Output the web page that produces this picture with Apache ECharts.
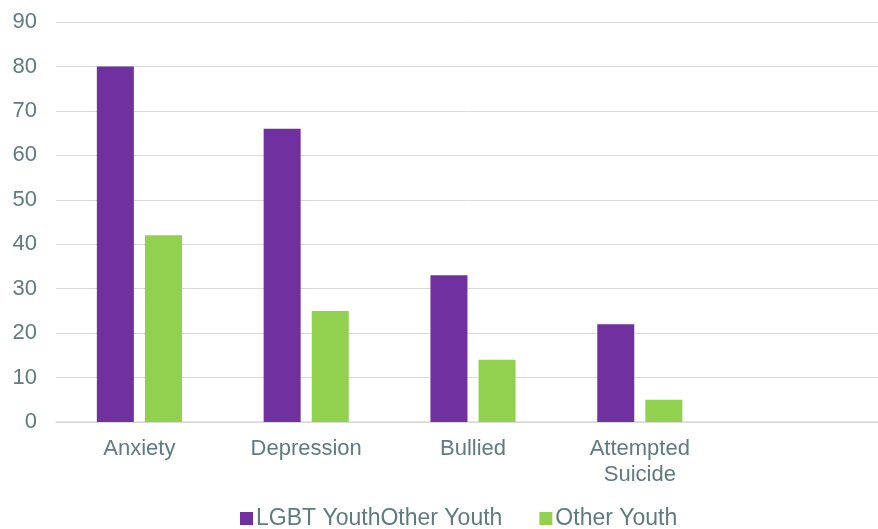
<!DOCTYPE html>
<html><head><meta charset="utf-8">
<script src="https://cdn.jsdelivr.net/npm/echarts@6/dist/echarts.min.js"></script>
<style>html,body{margin:0;padding:0;background:#fff}#c{width:878px;height:529px}</style>
</head><body><div id="c"></div>
<script>
const categories = ['Anxiety', 'Depression', 'Bullied', 'Attempted\nSuicide', ''];
const lgbtYouth = [80, 66, 33, 22, null];
const otherYouth = [42, 25, 14, 5, null];
const seriesNames = ['LGBT YouthOther Youth', 'Other Youth'];
const yTicks = { min: 0, max: 90, interval: 10 };

const textColor = '#5f7a80';
const font = 'Liberation Sans, Arial, sans-serif';
const chart = echarts.init(document.getElementById('c'));
chart.setOption({
  animation: false,
  grid: { left: 56, width: 834, top: 22, bottom: 107, containLabel: false, outerBoundsMode: 'none' },
  legend: {
    bottom: -6, left: 235, itemWidth: 13, itemHeight: 13, itemGap: 37,
    icon: 'rect',
    textStyle: { color: textColor, fontSize: 23, fontFamily: font, padding: [0, 0, 0, -2] }
  },
  xAxis: {
    type: 'category', data: categories,
    axisLine: { lineStyle: { color: '#d9d9d9', width: 1.5 } },
    axisTick: { show: false },
    axisLabel: { color: textColor, fontSize: 22, fontFamily: font, margin: 14, lineHeight: 26, interval: 0 }
  },
  yAxis: {
    type: 'value', min: yTicks.min, max: yTicks.max, interval: yTicks.interval,
    axisLine: { show: false }, axisTick: { show: false },
    splitLine: { lineStyle: { color: '#d9d9d9', width: 1 } },
    axisLabel: { color: textColor, fontSize: 22, fontFamily: font, margin: 19 }
  },
  series: [
    { name: seriesNames[0], type: 'bar', data: lgbtYouth, barWidth: 37, barGap: '30%', itemStyle: { color: '#7030a0' } },
    { name: seriesNames[1], type: 'bar', data: otherYouth, barWidth: 37, itemStyle: { color: '#92d050' } }
  ]
});
</script></body></html>
